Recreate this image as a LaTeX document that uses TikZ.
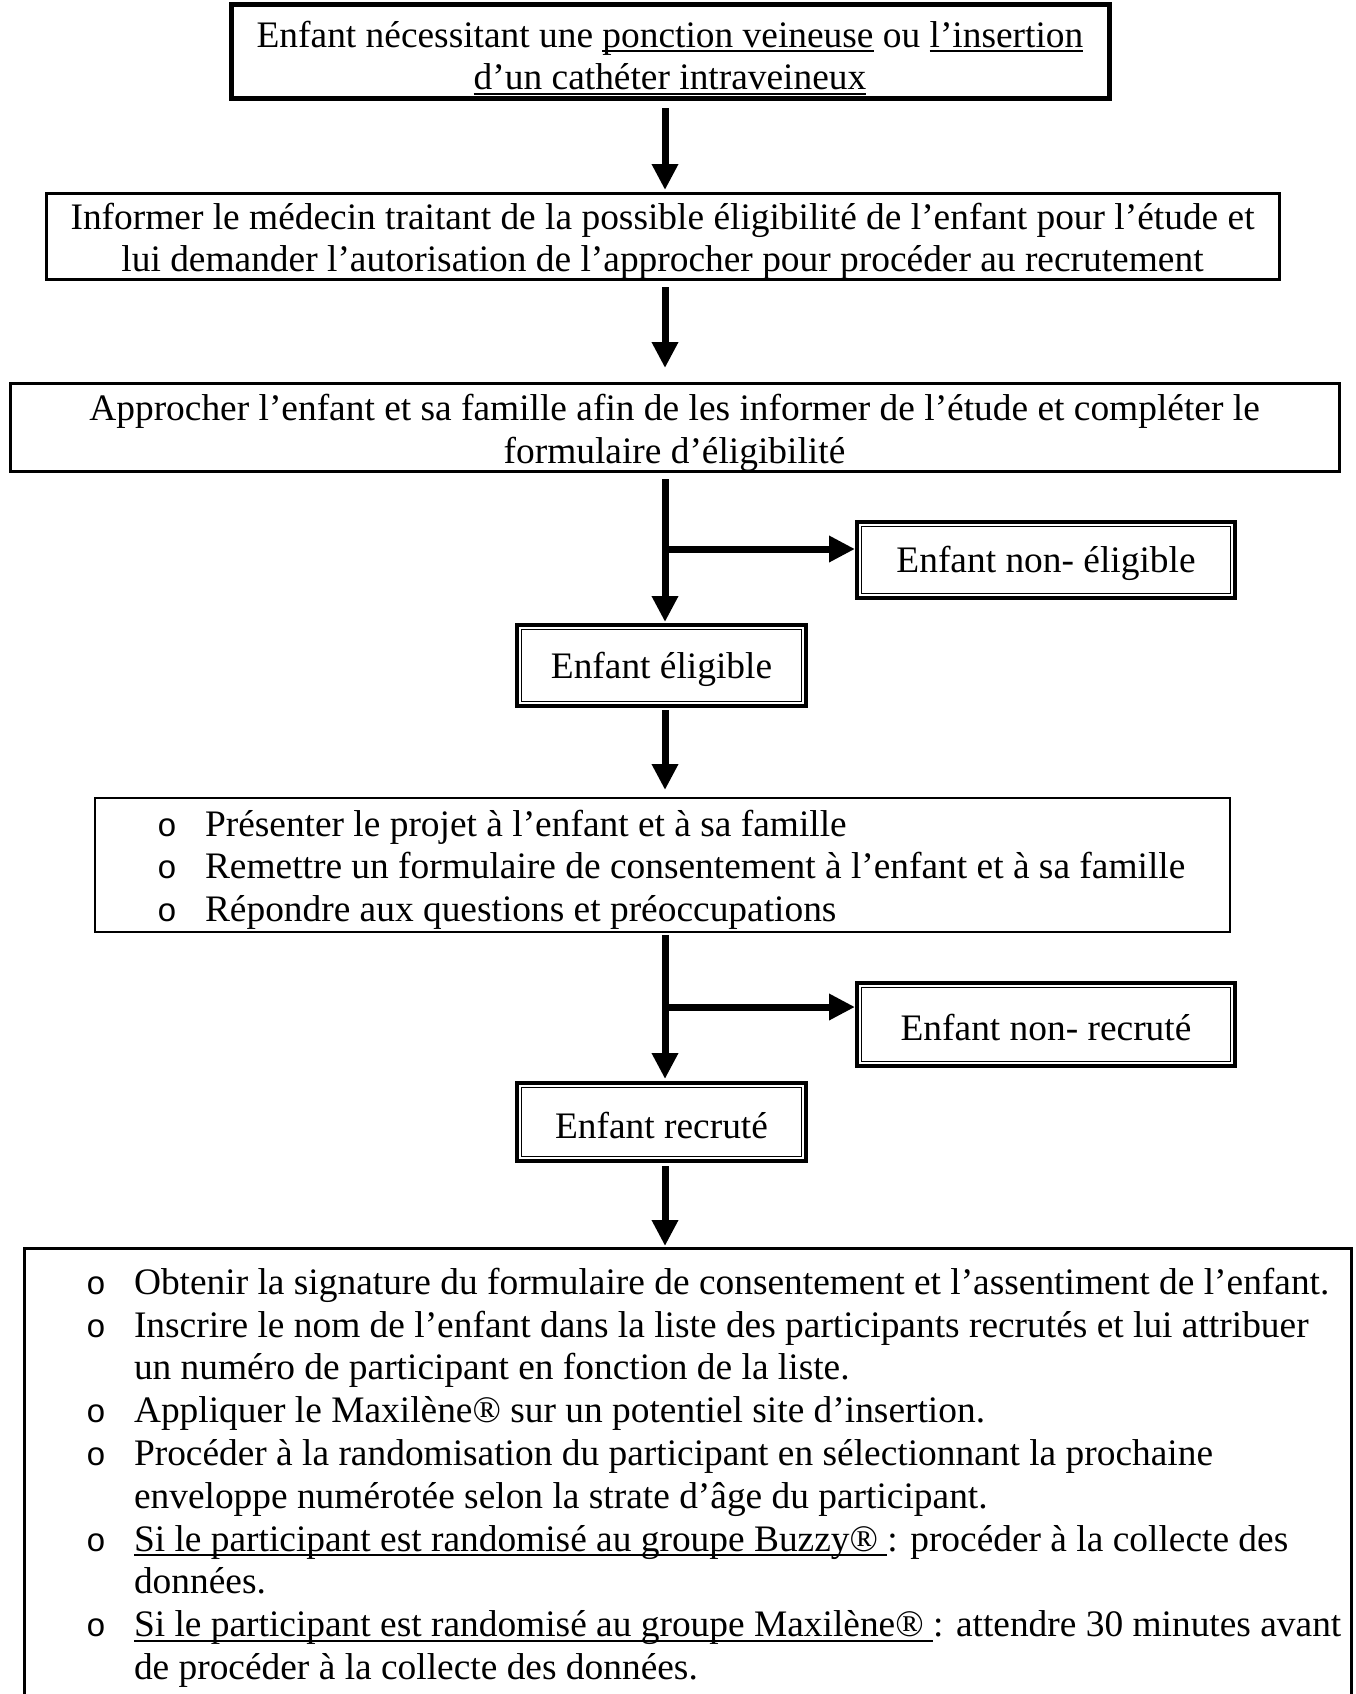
\documentclass[tikz,border=0pt]{standalone}
\usepackage{fontspec}
\setmainfont{Liberation Serif}
\newfontfamily\bulletfont{Liberation Mono}
\usetikzlibrary{arrows.meta,calc}
\newcommand{\myuline}[1]{\setbox0\hbox{#1}\rlap{\rule[-5pt]{\wd0}{2pt}}\box0\relax}
\newcommand{\mybul}{\makebox[48pt][l]{\bulletfont\fontsize{33}{42.5}\selectfont o}}
\begin{document}
\begin{tikzpicture}[x=1pt,y=-1pt,
  txt/.style={font=\fontsize{37.4}{42.5}\selectfont, inner sep=0pt, outer sep=0pt, align=center},
  plainbox/.style={draw, line width=3pt, inner sep=0pt, outer sep=0pt},
  dblbox/.style={draw, line width=4pt, inner sep=0pt, outer sep=0pt},
  arr/.style={line width=7pt, -{Triangle[length=26pt,width=25pt]}}]
\useasboundingbox (0,0) rectangle (1356,1694);

% boxes
\node[plainbox, line width=5pt, minimum width=878pt, minimum height=93pt] (b1) at (670,51.5) {};
\node[txt, yshift=-6.5pt] (t1) at (b1.center)
  {Enfant nécessitant une \myuline{ponction veineuse} ou \myuline{l’insertion}\\\myuline{d’un cathéter intraveineux}};
\node[plainbox, minimum width=1233pt, minimum height=86pt] (b2) at (662.5,236) {};
\node[txt, yshift=-5.5pt] (t2) at (b2.center)
  {Informer le médecin traitant de la possible éligibilité de l’enfant pour l’étude et\\lui demander l’autorisation de l’approcher pour procéder au recrutement};
\node[plainbox, minimum width=1329pt, minimum height=88pt] (b3) at (674.5,427) {};
\node[txt, yshift=-6pt] (t3) at (b3.center)
  {Approcher l’enfant et sa famille afin de les informer de l’étude et compléter le\\formulaire d’éligibilité};
\node[dblbox, minimum width=378pt, minimum height=76pt] (ne) at (1046,560) {};
\node[txt, yshift=-3.5pt] (tne) at (ne.center) {Enfant non- éligible};
\node[dblbox, minimum width=289pt, minimum height=81pt] (el) at (661.5,665.5) {};
\node[txt, yshift=-3.5pt] (tel) at (el.center) {Enfant éligible};
\node[plainbox, line width=2.5pt, minimum width=1135pt, minimum height=134pt] (b5) at (662.5,865) {};
\node[txt, align=left, anchor=west] (t5) at (157,869.5)
  {\mybul Présenter le projet à l’enfant et à sa famille\\
   \mybul Remettre un formulaire de consentement à l’enfant et à sa famille\\
   \mybul Répondre aux questions et préoccupations};
\node[dblbox, minimum width=378pt, minimum height=83pt] (nr) at (1046,1024.5) {};
\node[txt, yshift=-3.5pt] (tnr) at (nr.center) {Enfant non- recruté};
\node[dblbox, minimum width=289pt, minimum height=78pt] (rc) at (661.5,1122) {};
\node[txt, yshift=-3.5pt] (trc) at (rc.center) {Enfant recruté};

% inner lines of double boxes
\foreach \n in {ne,el,nr,rc}
  \draw[line width=1.3pt] ([shift={(4.6pt,-4.6pt)}]\n.north west) rectangle ([shift={(-4.6pt,4.6pt)}]\n.south east);

% last box (open at the bottom of the page)
\coordinate (b7tl) at (24,1248);
\coordinate (b7tr) at (1351,1248);
\draw[line width=3pt] (24,1694) -- (b7tl) -- (b7tr) -- (1351,1694);
\node[txt, align=left, anchor=north west] (t7) at (86,1268)
  {\mybul Obtenir la signature du formulaire de consentement et l’assentiment de l’enfant.\\[0.5pt]
   \mybul Inscrire le nom de l’enfant dans la liste des participants recrutés et lui attribuer\\
   \hspace*{48pt}un numéro de participant en fonction de la liste.\\[0.5pt]
   \mybul Appliquer le Maxilène® sur un potentiel site d’insertion.\\[0.5pt]
   \mybul Procéder à la randomisation du participant en sélectionnant la prochaine\\
   \hspace*{48pt}enveloppe numérotée selon la strate d’âge du participant.\\[0.5pt]
   \mybul \myuline{Si le participant est randomisé au groupe Buzzy®\ }: procéder à la collecte des\\
   \hspace*{48pt}données.\\[0.5pt]
   \mybul \myuline{Si le participant est randomisé au groupe Maxilène®\ }: attendre 30 minutes avant\\
   \hspace*{48pt}de procéder à la collecte des données.};

% connectors
\coordinate (ax) at (665,0);
\draw[arr, shorten <=10pt, shorten >=3pt] (b1.south -| ax) -- (b2.north -| ax);
\draw[arr, shorten <=8pt, shorten >=15pt] (b2.south -| ax) -- (b3.north -| ax);
\draw[arr, shorten <=8pt, shorten >=3pt] (b3.south -| ax) -- (el.north -| ax);
\draw[arr, shorten <=4pt, shorten >=8pt] (el.south -| ax) -- (b5.north -| ax);
\draw[arr, shorten <=3pt, shorten >=4pt] (b5.south -| ax) -- (rc.north -| ax);
\draw[arr, shorten <=5pt, shorten >=2pt] (rc.south -| ax) -- (b7tl -| ax);
\coordinate (br1) at (665,549);
\coordinate (br2) at (665,1007);
\draw[arr, shorten >=2pt] (br1) -- (br1 -| ne.west);
\draw[arr, shorten >=2pt] (br2) -- (br2 -| nr.west);
\end{tikzpicture}
\end{document}
